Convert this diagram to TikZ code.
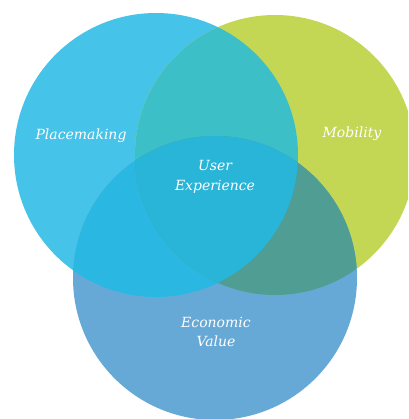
\documentclass[tikz,border=0pt]{standalone}
\usepackage{fontspec}
\setmainfont{DejaVu Serif}
\definecolor{cA}{RGB}{69,195,232}
\definecolor{cB}{RGB}{196,215,85}
\definecolor{cC}{RGB}{103,169,214}
\definecolor{cAB}{RGB}{61,191,200}
\definecolor{cAC}{RGB}{42,184,226}
\definecolor{cBC}{RGB}{80,157,148}
\definecolor{cABC}{RGB}{40,181,216}
\tikzset{lbl/.style={text=white,font=\itshape\fontsize{14}{19.5}\selectfont,align=center,inner sep=0pt}}
\begin{document}
\begin{tikzpicture}[x=1pt,y=-1pt]
\useasboundingbox (0,0) rectangle (408,419);
\def\cA{(156,155) circle (142)}
\def\cB{(275,155) circle (140)}
\def\cC{(215,278) circle (142)}
\clip (0,0) rectangle (408,419);
\fill[cA] \cA;
\fill[cB] \cB;
\fill[cC] \cC;
\begin{scope}\clip \cA; \fill[cAB] \cB; \end{scope}
\begin{scope}\clip \cA; \fill[cAC] \cC; \end{scope}
\begin{scope}\clip \cB; \fill[cBC] \cC; \end{scope}
\begin{scope}\clip \cA; \clip \cB; \fill[cABC] \cC; \end{scope}
\node[lbl] (place) at (81,136) {Placemaking};
\node[lbl] (mob) at (352,134) {Mobility};
\node[lbl] (user) at (215,177) {User\\Experience};
\node[lbl] (econ) at (216,332) {Economic\\Value};
\end{tikzpicture}
\end{document}
